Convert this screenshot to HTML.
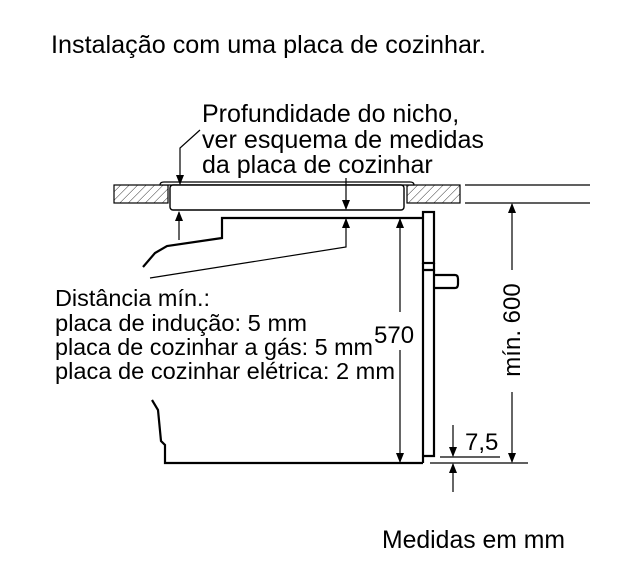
<!DOCTYPE html>
<html><head><meta charset="utf-8"><style>
html,body{margin:0;padding:0;background:#fff;}
svg{display:block;}
text{font-family:"Liberation Sans",sans-serif;fill:#000;}
</style></head><body>
<svg width="627" height="582" viewBox="0 0 627 582" xmlns="http://www.w3.org/2000/svg">
<defs>
<pattern id="h" patternUnits="userSpaceOnUse" width="6" height="6" patternTransform="rotate(45)">
<line x1="0" y1="0" x2="0" y2="6" stroke="#000" stroke-width="0.8"/>
</pattern>
<marker id="a" markerWidth="10" markerHeight="10" refX="9" refY="4" orient="auto" markerUnits="userSpaceOnUse">
<path d="M0,0 L10,4 L0,8 Z" fill="#000"/>
</marker>
</defs>
<text x="51" y="53" font-size="25" textLength="435" lengthAdjust="spacingAndGlyphs">Instalação com uma placa de cozinhar.</text>
<text x="202" y="122" font-size="25">Profundidade do nicho,</text>
<text x="202" y="148" font-size="25" textLength="282" lengthAdjust="spacingAndGlyphs">ver esquema de medidas</text>
<text x="202" y="173" font-size="25">da placa de cozinhar</text>

<rect x="114" y="185" width="54" height="18" fill="url(#h)" stroke="#000" stroke-width="1.2"/>
<rect x="407" y="185" width="53" height="18" fill="url(#h)" stroke="#000" stroke-width="1.2"/>
<line x1="465" y1="185" x2="590" y2="185" stroke="#000" stroke-width="1.2"/>
<line x1="465" y1="203" x2="590" y2="203" stroke="#000" stroke-width="1.2"/>
<path d="M160,185 Q160,182 164,182 L410,182 Q414,182 414,185 Z" fill="#fff" stroke="#000" stroke-width="1.2"/>
<rect x="170" y="185" width="234" height="25" rx="3" fill="#fff" stroke="#000" stroke-width="1.4"/>

<g stroke="#000" stroke-width="1.2" fill="none">
<polyline points="200,130 180,148 180,184" marker-end="url(#a)"/>
<line x1="179" y1="240" x2="179" y2="212" marker-end="url(#a)"/>
<line x1="346" y1="178" x2="346" y2="209" marker-end="url(#a)"/>
<polyline points="150,278 346,247 346,219" marker-end="url(#a)"/>
<line x1="400" y1="312" x2="400" y2="219" marker-end="url(#a)"/>
<line x1="400" y1="350" x2="400" y2="462" marker-end="url(#a)"/>
<line x1="512" y1="270" x2="512" y2="204" marker-end="url(#a)"/>
<line x1="512" y1="392" x2="512" y2="462" marker-end="url(#a)"/>
<line x1="440" y1="457" x2="500" y2="457"/>
<line x1="430" y1="463" x2="528" y2="463"/>
<line x1="453" y1="425" x2="453" y2="456" marker-end="url(#a)"/>
<line x1="453" y1="492" x2="453" y2="464" marker-end="url(#a)"/>
</g>

<g stroke="#000" stroke-width="2.2" fill="none" stroke-linejoin="miter">
<polyline points="143,267 155,253 167,246 222,238 222,218 423,218"/>
<polyline points="152,400 158,410 161,441 165,445 165,463 423,463"/>
<rect x="423" y="212" width="11" height="51"/>
<polyline points="423,263 423,463"/>
<polyline points="434,263 434,270 423,270"/>
<polyline points="434,270 434,456 423,456"/>
<path d="M435,275 L455,275 Q458,275 458,279 L458,284 Q458,288 455,288 L435,288"/>
</g>

<text x="374" y="343" font-size="24">570</text>
<text x="465" y="450" font-size="24">7,5</text>
<text transform="translate(520,330) rotate(-90)" text-anchor="middle" font-size="24">mín. 600</text>

<text x="55" y="306" font-size="23" textLength="155" lengthAdjust="spacingAndGlyphs">Distância mín.:</text>
<text x="55" y="331" font-size="23" textLength="252" lengthAdjust="spacingAndGlyphs">placa de indução: 5 mm</text>
<text x="55" y="355" font-size="23" textLength="318" lengthAdjust="spacingAndGlyphs">placa de cozinhar a gás: 5 mm</text>
<text x="55" y="379" font-size="23" textLength="340" lengthAdjust="spacingAndGlyphs">placa de cozinhar elétrica: 2 mm</text>

<text x="382" y="548" font-size="25" textLength="183" lengthAdjust="spacingAndGlyphs">Medidas em mm</text>
</svg>
</body></html>
